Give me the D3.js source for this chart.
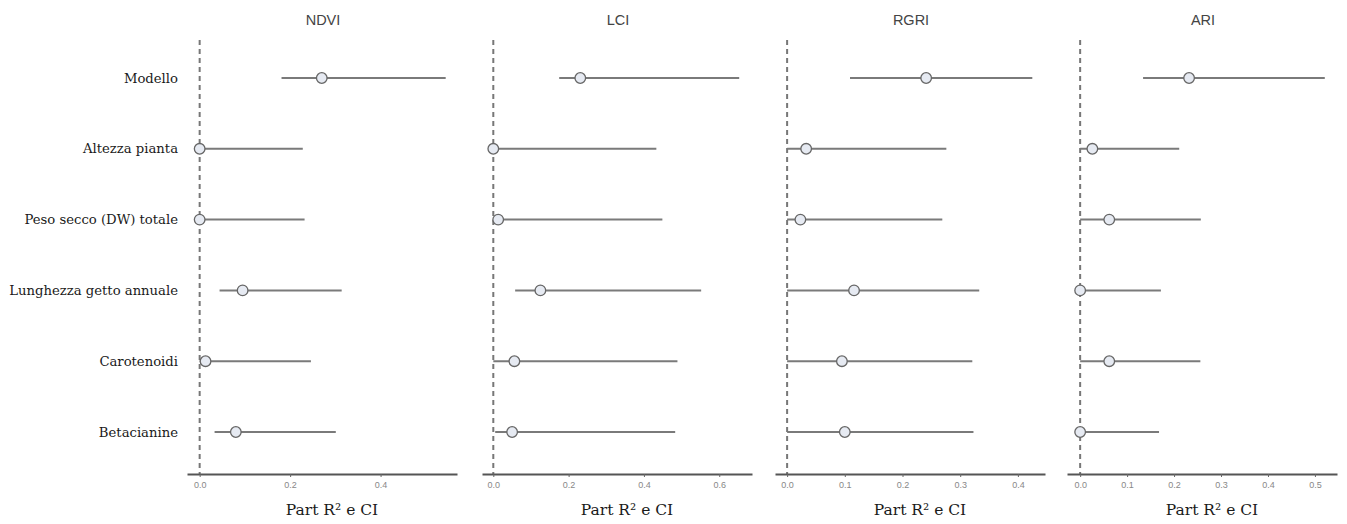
<!DOCTYPE html>
<html><head><meta charset="utf-8">
<script src="https://cdn.jsdelivr.net/npm/d3@7"></script>
<style>body{margin:0;background:#fff}svg{display:block}</style>
</head><body>
<script>
const categories = ["Modello","Altezza pianta","Peso secco (DW) totale","Lunghezza getto annuale","Carotenoidi","Betacianine"];
const panels = ["NDVI","LCI","RGRI","ARI"];
// estimates: point, lower CI, upper CI per panel (order as categories)
const ndviEst = [0.270, 0.000, 0.000, 0.095, 0.013, 0.080];
const ndviLo  = [0.181, 0.000, 0.000, 0.044, 0.000, 0.033];
const ndviHi  = [0.544, 0.228, 0.232, 0.314, 0.246, 0.301];
const lciEst  = [0.231, 0.000, 0.013, 0.125, 0.056, 0.050];
const lciLo   = [0.175, 0.000, 0.000, 0.058, 0.000, 0.005];
const lciHi   = [0.653, 0.433, 0.449, 0.552, 0.489, 0.483];
const rgriEst = [0.241, 0.033, 0.023, 0.116, 0.095, 0.100];
const rgriLo  = [0.109, 0.000, 0.000, 0.000, 0.000, 0.000];
const rgriHi  = [0.425, 0.276, 0.269, 0.333, 0.321, 0.323];
const ariEst  = [0.232, 0.026, 0.062, 0.000, 0.062, 0.000];
const ariLo   = [0.134, 0.000, 0.000, 0.000, 0.000, 0.000];
const ariHi   = [0.521, 0.211, 0.257, 0.172, 0.256, 0.168];
const tickValues = [[0,0.2,0.4],[0,0.2,0.4,0.6],[0,0.1,0.2,0.3,0.4],[0,0.1,0.2,0.3,0.4,0.5]];
const xDomains = [[-0.028,0.569],[-0.030,0.687],[-0.021,0.447],[-0.028,0.547]];
const axisTitle = "Part R² e CI";

const series = [[ndviEst,ndviLo,ndviHi],[lciEst,lciLo,lciHi],[rgriEst,rgriLo,rgriHi],[ariEst,ariLo,ariHi]];

const W=1347,H=524;
const svg=d3.select("body").append("svg").attr("width",W).attr("height",H);
const panelLeft=[187,482,775,1067], panelW=270, axisY=474, topY=40;
const y=d3.scalePoint().domain(categories).range([78,432]);

// category labels
svg.append("g").selectAll("text").data(categories).join("text")
  .attr("x",178).attr("y",d=>y(d)).attr("dy","0.35em")
  .attr("text-anchor","end").attr("font-family","'DejaVu Serif', serif")
  .attr("font-size",13.2).attr("fill","#1a1a1a").text(d=>d);

panels.forEach((p,i)=>{
  const x=d3.scaleLinear().domain(xDomains[i]).range([panelLeft[i],panelLeft[i]+panelW]);
  const g=svg.append("g");
  g.append("text").attr("x",panelLeft[i]+136).attr("y",25).attr("text-anchor","middle")
    .attr("font-family","'Liberation Sans', Arial, sans-serif").attr("font-size",14.5).attr("fill","#444").text(p);
  g.append("line").attr("x1",x(0)).attr("x2",x(0)).attr("y1",topY).attr("y2",axisY)
    .attr("stroke","#777").attr("stroke-width",2).attr("stroke-dasharray","5,4");
  const ax=g.append("g").attr("transform",`translate(0,${axisY})`)
    .call(d3.axisBottom(x).tickValues(tickValues[i]).tickFormat(d3.format(".1f")).tickSize(3).tickSizeOuter(0));
  ax.select(".domain").attr("stroke","#555").attr("stroke-width",2);
  ax.selectAll(".tick line").attr("stroke","#666");
  ax.selectAll(".tick text").attr("fill","#888").attr("font-size",9)
    .attr("font-family","'Liberation Sans', Arial, sans-serif").attr("dy","0.9em");
  g.append("text").attr("x",panelLeft[i]+145).attr("y",515)
    .attr("text-anchor","middle").attr("font-family","'DejaVu Serif', serif").attr("font-size",15.5)
    .attr("fill","#1a1a1a").text(axisTitle);
  const [est,lo,hi]=series[i];
  const data=categories.map((c,k)=>({c,e:est[k],l:lo[k],h:hi[k]}));
  g.append("g").selectAll("line").data(data).join("line")
    .attr("x1",d=>x(d.l)).attr("x2",d=>x(d.h)).attr("y1",d=>y(d.c)).attr("y2",d=>y(d.c))
    .attr("stroke","#7a7a7a").attr("stroke-width",2);
  g.append("g").selectAll("circle").data(data).join("circle")
    .attr("cx",d=>x(d.e)).attr("cy",d=>y(d.c)).attr("r",5.3)
    .attr("fill","#e6eaf2").attr("stroke","#666").attr("stroke-width",1.3);
});
</script>
</body></html>
